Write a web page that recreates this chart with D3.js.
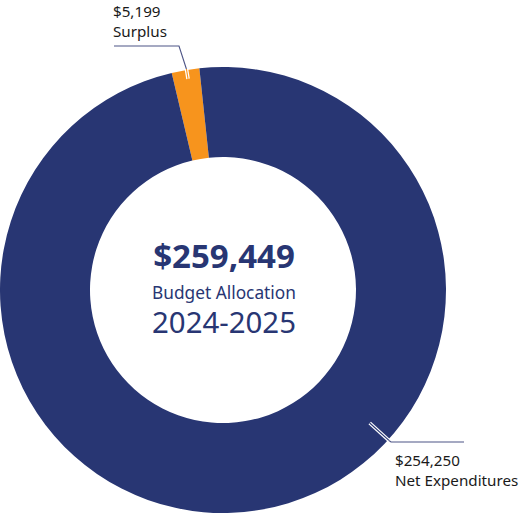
<html>
<head>
<script src="https://d3js.org/d3.v7.min.js" charset="utf-8"></script>
<style>
  body { margin: 0; background: #fff; }
  text { font-family: "Noto Sans", sans-serif; }
</style>
</head>
<body>
<script>
  // budget pieces
  const categories = ['Surplus', 'Net Expenditures'];
  const amounts = [5199, 254250];
  const amountLabels = ['$5,199', '$254,250'];
  const colors = ['#f7941d', '#283673'];
  const totalLabel = '$259,449';
  const centerLines = ['Budget Allocation', '2024-2025'];

  const w = 521, h = 518;
  const cx = 223, cy = 290;
  const outerR = 223, innerR = 133;
  const navy = '#283673';

  const svg = d3.select('body').append('svg')
      .attr('width', w).attr('height', h);

  const g = svg.append('g').attr('transform', 'translate(' + cx + ',' + cy + ')');

  const start = -13.3 * Math.PI / 180;
  const pie = d3.pie().sort(null).value(d => d)
      .startAngle(start).endAngle(start + 2 * Math.PI);
  const arc = d3.arc().innerRadius(innerR).outerRadius(outerR);

  const arcs = pie(amounts);

  g.selectAll('path.slice')
    .data(arcs)
    .enter()
    .append('path')
    .attr('class', 'slice')
    .attr('d', arc)
    .attr('fill', (d, i) => colors[i]);

  // leader lines: angle where they hit the ring, then elbow + end
  const callouts = [
    {angle: -9.4, depth: 214, elbow: [179, 46], end: [114, 46], tx: 113, ty: [17, 37]},
    {angle: 132.2, depth: 198, elbow: [391, 442], end: [464, 442], tx: 395, ty: [466, 486]}
  ];

  function polar(a, r) {
    const t = a * Math.PI / 180;
    return [cx + r * Math.sin(t), cy - r * Math.cos(t)];
  }

  callouts.forEach((c, i) => {
    const inner = polar(c.angle, c.depth);
    const edge = polar(c.angle, outerR + 1);
    // outside part
    svg.append('path')
      .attr('d', d3.line()([edge, c.elbow, c.end]))
      .attr('fill', 'none')
      .attr('stroke', '#4d5486')
      .attr('stroke-width', 1.1);
    // part over the ring
    svg.append('path')
      .attr('d', d3.line()([inner, edge]))
      .attr('stroke', '#fff')
      .attr('stroke-width', 3.6);
    svg.append('path')
      .attr('d', d3.line()([inner, edge]))
      .attr('stroke', colors[i])
      .attr('stroke-width', 1.1);

    svg.append('text')
      .attr('x', c.tx).attr('y', c.ty[0])
      .attr('font-size', 15.2)
      .attr('fill', '#1a1a1a')
      .text(amountLabels[i]);
    svg.append('text')
      .attr('x', c.tx).attr('y', c.ty[1])
      .attr('font-size', 15.2)
      .attr('fill', '#1a1a1a')
      .text(categories[i]);
  });

  // centre text
  svg.append('text')
    .attr('x', 224).attr('y', 268)
    .attr('text-anchor', 'middle')
    .attr('font-size', 33)
    .attr('font-weight', 'bold')
    .attr('fill', navy)
    .text(totalLabel);
  svg.append('text')
    .attr('x', 224).attr('y', 299)
    .attr('text-anchor', 'middle')
    .attr('font-size', 17.3)
    .attr('fill', navy)
    .text(centerLines[0]);
  svg.append('text')
    .attr('x', 224).attr('y', 333)
    .attr('text-anchor', 'middle')
    .attr('font-size', 29.4)
    .attr('fill', navy)
    .text(centerLines[1]);
</script>
</body>
</html>
